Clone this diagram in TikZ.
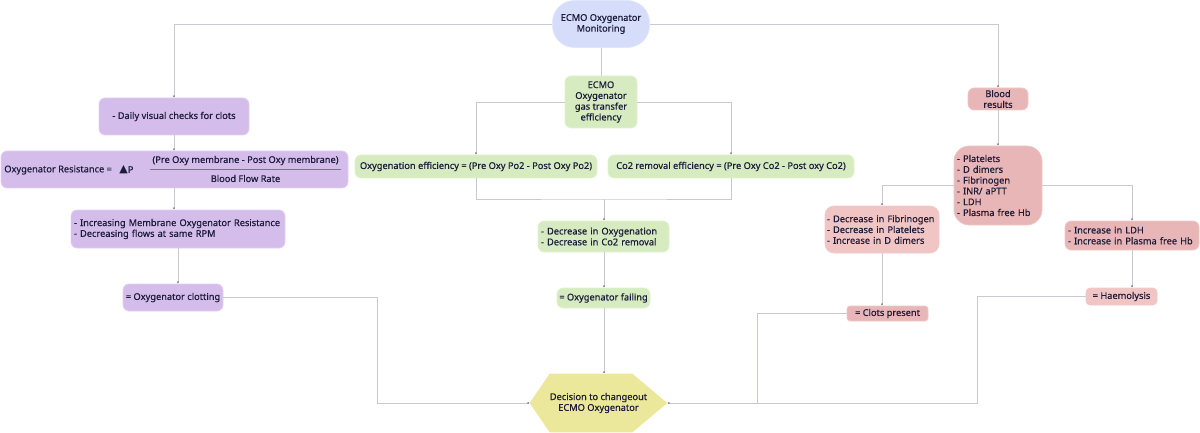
\documentclass[tikz,border=0pt]{standalone}
\usepackage{fontspec}
\setmainfont{Noto Sans}[FakeBold=0.5]
\newfontfamily\symfont{DejaVu Sans}
\usetikzlibrary{arrows.meta,calc}
\definecolor{txt}{HTML}{1C1C3A}
\definecolor{ln}{HTML}{C9C9D6}
\definecolor{purp}{HTML}{D5BDEB}
\definecolor{purpb}{HTML}{E2CFF3}
\definecolor{grn}{HTML}{D6ECC0}
\definecolor{grnb}{HTML}{E2F2D3}
\definecolor{blu}{HTML}{D5DDFA}
\definecolor{blub}{HTML}{E1E7FC}
\definecolor{pnk}{HTML}{E8B6B6}
\definecolor{pnkb}{HTML}{F0CACA}
\definecolor{pnkl}{HTML}{F2C5C5}
\definecolor{yel}{HTML}{ECE89B}
\tikzset{
  base/.style={font=\fontsize{9.25}{10.8}\selectfont, text=txt, inner sep=2pt, line width=0.7pt, rounded corners=6pt},
  pbox/.style={base, fill=purp, draw=purpb},
  gbox/.style={base, fill=grn, draw=grnb},
  rbox/.style={base, fill=pnk, draw=pnkb},
  lbox/.style={base, fill=pnkl, draw=pnkb},
  conn/.style={draw=ln, line width=0.9pt},
  arr/.style={conn, -{Latex[length=2pt,width=2pt,color=txt!70]}},
}
\begin{document}
\begin{tikzpicture}[x=1pt,y=-1pt]
\useasboundingbox (0,0) rectangle (1200,433);
% nodes
\node[base, fill=blu, draw=blub, rounded corners=22pt, minimum width=97pt, minimum height=47pt, align=center] (mon) at (601,24) {ECMO Oxygenator\\Monitoring};
\node[pbox, minimum width=150pt, minimum height=37pt] (daily) at (174,116.5) {- Daily visual checks for clots};
\node[pbox, minimum width=347pt, minimum height=37pt] (res) at (174.5,169.5) {};
\node[base, anchor=west] (reslbl) at (2,170) {Oxygenator Resistance =};
\node[base, anchor=west, inner sep=0pt] (dp) at (119,170) {{\symfont\fontsize{11}{12}\selectfont ▲}P};
\node[base] (num) at (245.5,160.5) {(Pre Oxy membrane - Post Oxy membrane)};
\node[base] (den) at (245.5,178.5) {Blood Flow Rate};
\draw[draw=txt!60, line width=0.6pt] (150,169) -- (341,169);
\node[pbox, minimum width=214pt, minimum height=38pt, text width=208pt, align=left] (inc) at (178,229) {- Increasing Membrane Oxygenator Resistance\\- Decreasing flows at same RPM};
\node[pbox, minimum width=100pt, minimum height=27pt] (clot) at (173,297.5) {= Oxygenator clotting};

\node[gbox, minimum width=72pt, minimum height=52pt, align=center, inner sep=1pt] (gas) at (601,102) {ECMO\\Oxygenator\\gas transfer\\efficiency};
\node[gbox, minimum width=242pt, minimum height=23pt] (oxyeff) at (476,166.5) {Oxygenation efficiency = (Pre Oxy Po2 - Post Oxy Po2)};
\node[gbox, minimum width=246pt, minimum height=23pt] (co2eff) at (731,166.5) {Co2 removal efficiency = (Pre Oxy Co2 - Post oxy Co2)};
\node[gbox, minimum width=131pt, minimum height=31pt, text width=125pt, align=left] (decr) at (603.5,236.5) {- Decrease in Oxygenation\\- Decrease in Co2 removal};
\node[gbox, minimum width=93pt, minimum height=20pt] (fail) at (603.5,298) {= Oxygenator failing};

\node[base, rounded corners=0pt, minimum width=137pt, minimum height=58pt, align=center] (hex) at (598.5,403) {};

\node[rbox, minimum width=60pt, minimum height=22pt, align=center, inner sep=1pt] (blood) at (998,99) {Blood\\results};
\node[rbox, rounded corners=15pt, minimum width=88pt, minimum height=79pt, text width=82pt, align=left] (list) at (998,185.5) {- Platelets\\- D dimers\\- Fibrinogen\\- INR/ aPTT\\- LDH\\- Plasma free Hb};
\node[lbox, rounded corners=9pt, minimum width=114pt, minimum height=47pt, text width=110pt, align=left] (fib) at (882,229.5) {- Decrease in Fibrinogen\\- Decrease in Platelets\\- Increase in D dimers};
\node[rbox, minimum width=134pt, minimum height=29pt, text width=128pt, align=left] (ldh) at (1132,235.5) {- Increase in LDH\\- Increase in Plasma free Hb};
\node[rbox, rounded corners=3pt, minimum width=81pt, minimum height=15pt, inner sep=1pt] (clots) at (887.5,313.5) {= Clots present};
\node[lbox, rounded corners=4pt, minimum width=71pt, minimum height=17pt, inner sep=1pt] (haem) at (1121.5,296.5) {= Haemolysis};

% coordinates
\coordinate (j) at (604,199);
\coordinate (cL) at (377,403);
\coordinate (cR) at (757,403);
\coordinate (cH) at (977,403);

% connectors
\draw[arr] (mon.west) -| (daily.north);
\draw[arr] (mon.east) -| (blood.north);
\draw[conn] (mon.south) -- (gas.north);
\draw[arr] (daily.south) -- (daily.south |- res.north);
\draw[arr] (daily.south |- res.south) -- (daily.south |- inc.north);
\draw[arr] (inc.south) -- (inc.south |- clot.north);
\draw[arr] (clot.east) -- (clot.east -| cL) -- (cL) -- (hex.west);
\draw[arr] (gas.west) -| (oxyeff.north);
\draw[arr] (gas.east) -| (co2eff.north);
\draw[conn] (oxyeff.south) |- (j) -| (co2eff.south);
\draw[arr] (j) -- (j |- decr.north);
\draw[arr] (decr.south -| j) -- (j |- fail.north);
\draw[arr] (fail.south -| j) -- (j |- hex.north);
\draw[arr] (blood.south) -- (list.north);
\draw[arr] (list.west) -| (fib.north);
\draw[arr] (list.east) -| (ldh.north);
\draw[arr] (fib.south) -- (fib.south |- clots.north);
\draw[arr] (ldh.south) -- (ldh.south |- haem.north);
\draw[conn] (clots.west) -- (clots.west -| cR) -- (cR);
\draw[arr] (haem.west) -- (haem.west -| cH) -- (cH) -- (hex.east);

% hexagon
\fill[yel] (hex.west) -- ($(hex.north west)+(20,0)$) -- ($(hex.north east)+(-35,0)$) -- (hex.east) -- ($(hex.south east)+(-35,0)$) -- ($(hex.south west)+(20,0)$) -- cycle;
\node[base, align=center] (hextxt) at (hex.center) {Decision to changeout\\ECMO Oxygenator};
\end{tikzpicture}
\end{document}
